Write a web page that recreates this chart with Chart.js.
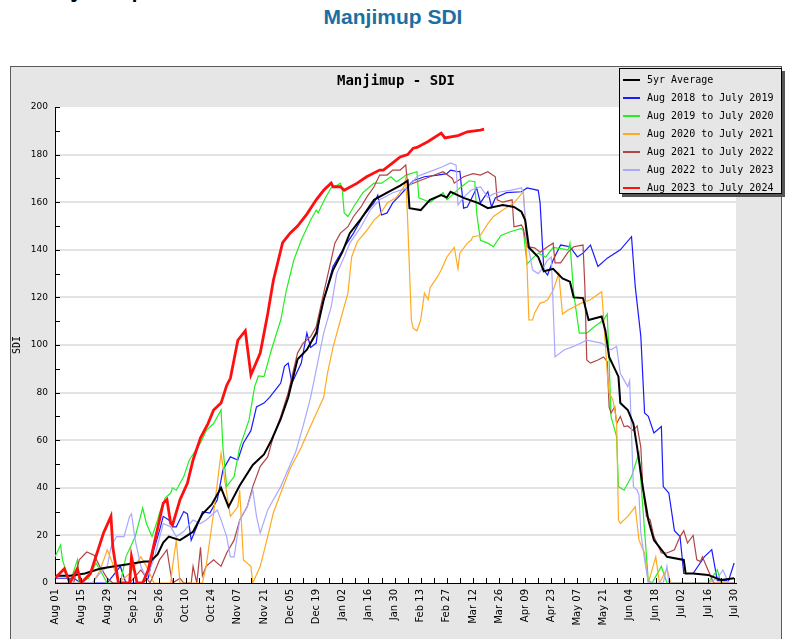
<!DOCTYPE html>
<html lang="en">
<head>
  <meta charset="UTF-8" />
  <title>Manjimup SDI</title>
  <script src="https://cdn.jsdelivr.net/npm/chart.js"></script>
  <style>
    body {
      margin: 0;
      background: #ffffff;
      font-family: "Liberation Sans", Arial, sans-serif;
      width: 786px;
      height: 639px;
      overflow: hidden;
      position: relative;
    }
    .cut-head {
      position: absolute;
      left: 10px;
      top: -34px;
      font-size: 32px;
      line-height: 37px;
      color: #000;
      white-space: nowrap;
    }
    h2 {
      position: absolute;
      top: 5px;
      left: 0;
      width: 786px;
      margin: 0;
      text-align: center;
      font-size: 21px;
      font-weight: bold;
      color: #1d6ea1;
    }
    .frame {
      position: absolute;
      left: 10px;
      top: 66px;
      width: 772px;
      height: 620px;
      box-sizing: border-box;
      background: #e6e6e6;
      border: 1px solid #5a5a5a;
    }
    .frame .ttl {
      position: absolute;
      top: 5px;
      left: 0;
      width: 100%;
      text-align: center;
      font-family: "DejaVu Sans Mono", monospace;
      font-weight: bold;
      font-size: 14px;
      color: #000;
    }
    .frame canvas {
      position: absolute;
      left: 0;
      top: 0;
    }
    .legend {
      position: absolute;
      left: 619px;
      top: 68px;
      width: 163px;
      height: 126px;
      box-sizing: border-box;
      background: #e6e6e6;
      border: 1px solid #000;
      box-shadow: 3px 3px 0 #555;
      font-family: "DejaVu Sans Mono", monospace;
      font-size: 10px;
      padding-top: 2px;
    }
    .legend div {
      height: 18px;
      line-height: 18px;
      white-space: nowrap;
    }
    .legend span {
      display: inline-block;
      width: 17px;
      vertical-align: middle;
      margin: 0 7px 0 3px;
    }
  </style>
</head>
<body>
  <div class="cut-head">Manjimup</div>
  <h2>Manjimup SDI</h2>

  <div class="frame">
    <canvas id="sdiChart" width="770" height="572"></canvas>
    <div class="ttl">Manjimup - SDI</div>
  </div>

  <div class="legend" id="legend"></div>

  <script>
    // day 0 = Aug 01, day 364 = Jul 30
    const tickLabels = ['Aug 01', 'Aug 15', 'Aug 29', 'Sep 12', 'Sep 26', 'Oct 10', 'Oct 24', 'Nov 07',
      'Nov 21', 'Dec 05', 'Dec 19', 'Jan 02', 'Jan 16', 'Jan 30', 'Feb 13', 'Feb 27', 'Mar 12',
      'Mar 26', 'Apr 09', 'Apr 23', 'May 07', 'May 21', 'Jun 04', 'Jun 18', 'Jul 02', 'Jul 16', 'Jul 30'];

    const seriesNames = ['5yr Average', 'Aug 2018 to July 2019', 'Aug 2019 to July 2020',
      'Aug 2020 to July 2021', 'Aug 2021 to July 2022', 'Aug 2022 to July 2023', 'Aug 2023 to July 2024'];

    // [day, SDI]
    const avg5yr = [[0,3],[8,3],[16,4],[24,6],[32,7],[40,8],[48,9],[51,9],[55,12],[58,17],
      [61,19.5],[67,18],[74,21.5],[79,29],[84,33],[89,40],[93,32],[99,41],[106,49.6],[112,54],
      [116,60],[121,69],[125,78],[130,94],[135,98],[140,105],[144,119],[149,131.5],[154,139],[158,147],
      [164,153],[171,161],[178,164],[185,167],[189,169],[190,157.5],[196,156.7],[201,161],[207,163],[210,162],
      [212,164.4],[219,161.8],[227,159.6],[232,157.5],[240,158.8],[246,158],[250,156],[252,152.5],[254,141],[259,137],
      [262,131],[267,132],[272,128],[276,126.6],[278,120],[283,119.7],[286,110.5],[293,112],[295,106],[297,95],
      [302,86.7],[303,75.6],[307,72.7],[310,67],[312,57],[315,40.5],[318,26.5],[321,18],[325,14],[328,11],
      [337,9.7],[338,4],[342,4],[350,3.4],[357,1.3],[364,2]];

    const y2018 = [[0,2],[10,2],[14,0],[28,0],[35,7],[38,0],[47,0],[50,2],[53,14],[56,22],[58,28],[61,26.5],
      [63,23.6],[65,23.6],[69,30],[71,29],[73,18],[76,23.6],[79,30],[83,29.4],[87,35],[90,47.5],[94,53],
      [98,51.7],[101,58.8],[105,64],[108,74],[112,75.6],[115,78],[119,82],[121,84],[123,91],[125,92.4],
      [127,84],[132,92.4],[135,105],[137,99],[140,100.8],[142,113],[146,124.5],[149,133],[155,141],[160,147],
      [165,154],[171,159.7],[173,163],[175,154.6],[178,155.5],[181,159.7],[185,163],[189,166.5],[192,169],
      [198,170.7],[205,171.4],[210,172],[212,173.5],[216,172.8],[217,173],[219,157.5],[221,158],[226,166],
      [228,159.7],[232,164.4],[234,158],[236,161.8],[242,164],[250,164.4],[253,166],[259,165],[260,159.7],
      [262,131.5],[264,129.4],[267,135.7],[271,142],[276,141.3],[280,137],[283,138.6],[287,142],[291,133],
      [296,136.5],[303,140],[309,145.5],[311,124.5],[314,103.5],[316,71.4],[318,70],[321,63],[325,65.7],
      [326,40.5],[329,37.8],[332,22],[335,19.5],[337,4],[342,4],[348,11],[352,14],[355,1],[361,1],[364,8.4]];

    const y2019 = [[0,11],[3,16],[4,9.7],[8,0],[12,9.7],[13,0],[18,2],[22,8.4],[28,0],[35,0],[38,11],
      [43,19.5],[47,31.5],[49,25],[52,19.5],[55,26.5],[56,29.4],[59,35.7],[62,37.8],[63,40],[65,39],
      [69,44.7],[72,51.7],[78,58.8],[81,64],[85,67],[89,72.7],[90,57],[92,40.5],[96,44.7],[99,57],
      [104,68.5],[107,82.5],[109,87],[112,86.7],[116,98],[121,110.5],[124,123],[128,135.7],[132,144],
      [137,152.5],[140,156.7],[141,155.5],[145,162],[148,166],[151,167],[153,168],[154,165],[155,155.5],
      [157,154],[160,158],[165,164],[171,168],[175,168],[180,170.7],[183,168.6],[187,170.7],[188,171.4],
      [194,172.8],[195,161.8],[201,160],[208,164],[210,161],[217,166],[222,169],[225,168.6],[226,155.5],
      [228,144],[232,142.8],[235,141.3],[239,146],[244,147.6],[250,149],[251,148],[253,134],[256,136.5],
      [259,138.6],[263,137],[267,141],[275,140],[276,142.8],[278,121.8],[281,105],[285,105],[289,107.7],
      [294,110.5],[296,113],[297,93.7],[298,70],[301,61.5],[302,40.5],[305,39],[309,44.7],[313,54.6],
      [314,43],[316,22],[318,1],[320,0],[325,7],[328,0],[350,0],[355,5.5],[357,0],[364,0]];

    const y2020 = [[0,0],[20,0],[24,5],[28,14],[31,8],[34,0],[40,4],[46,11],[49,7],[53,0],[62,0],[63,7],
      [65,18],[67,0],[79,0],[81,7],[85,29.4],[89,54.6],[91,43],[94,28],[98,32],[99,39],[101,9.7],[105,7],
      [106,0],[110,7],[114,19.5],[117,29.4],[121,37.8],[126,48],[132,57],[137,66],[144,78],[146,88],
      [149,99],[153,110.5],[157,121.8],[159,137],[162,143.4],[167,148],[171,152.5],[174,154.6],[178,159.7],
      [183,162],[187,166.5],[188,170],[189,152.5],[191,110.5],[192,107],[194,106],[196,110.5],[198,121.8],
      [200,119],[201,124],[205,128.7],[207,131.5],[210,137],[214,141],[216,132],[217,138.6],[221,142.8],
      [223,144],[224,145.5],[228,146],[232,151],[235,154],[240,156.7],[246,159.7],[251,164.4],[252,152.5],
      [253,133],[254,110.5],[256,110.5],[257,113.4],[260,117.6],[262,118],[264,119],[267,123],[270,130],
      [272,113],[275,114.7],[282,117.6],[287,119],[293,122.4],[294,112],[296,88],[297,79.8],[299,77],
      [301,68.5],[302,26.5],[303,25],[307,28],[311,32],[313,18],[316,12.6],[318,0],[322,11],[324,0],
      [328,6],[330,0],[364,0]];

    const y2021 = [[0,0],[10,0],[13,9.7],[17,13],[21,11.7],[24,7],[28,2],[31,0],[40,0],[46,5.5],[51,0],
      [56,9.7],[60,14],[62,4],[63,0],[67,2],[69,0],[73,0],[74,7],[76,0],[78,15],[79,3],[81,7],[85,9.7],
      [89,7],[92,12.6],[96,18],[99,26.5],[103,32],[106,40.5],[110,49],[114,53],[117,61.5],[121,70],
      [125,80],[130,96.6],[133,100.8],[137,103.5],[140,107.7],[144,121.8],[148,135.7],[150,142.8],[153,147],
      [157,149.7],[160,154],[164,158],[167,162],[171,166.5],[174,171.4],[178,171.4],[181,173.5],[185,173.5],
      [188,175.6],[189,167],[194,168.6],[201,170.7],[208,172.8],[213,170],[214,168],[219,170.7],[224,172],
      [228,171.4],[232,172.8],[236,170.7],[237,161],[240,160],[245,161],[246,149.7],[250,150.4],[251,149],
      [253,141.3],[257,140.8],[260,139],[264,141.3],[267,142.8],[268,134.5],[271,134.5],[275,139],[278,141.3],
      [283,142],[284,124.5],[285,93.7],[287,92.4],[291,93.7],[294,95],[296,93],[297,74],[298,71.4],[300,74],
      [301,67],[303,70],[305,65.7],[307,66],[310,64],[312,66],[314,57],[315,40.5],[317,28],[319,26.5],
      [321,19.5],[325,12.6],[328,12.6],[332,14],[335,19.5],[337,22],[339,16.8],[342,20],[344,9.7],[346,9],
      [347,11],[350,5.5],[353,0],[364,0]];

    const y2022 = [[0,0],[20,0],[24,4],[28,7],[30,15],[33,19.5],[37,19.5],[40,28],[41,29],[43,18],[46,7],
      [49,2],[53,10],[58,25],[62,23.6],[65,19.5],[69,21.6],[74,26.5],[78,25],[81,26.5],[87,30.7],[89,26.5],
      [92,19.5],[94,11],[96,11],[99,26.5],[103,32],[106,39],[108,28],[110,21],[114,30.7],[117,35],[121,40.5],
      [129,55],[133,66],[137,78],[140,89.5],[144,105],[148,116],[151,130],[155,137],[158,142.8],[164,149.7],
      [169,156.7],[174,161],[181,164],[189,166],[194,170.7],[196,171.4],[203,173.5],[208,175],[212,176.5],
      [215,175.6],[216,158.8],[219,162],[223,165],[228,166.5],[232,162],[235,163.5],[239,164.4],[244,165],
      [250,166],[251,164],[253,144],[256,131.5],[259,130],[262,133],[264,135.7],[266,137],[267,116],[268,95],
      [273,98],[278,99.4],[285,102],[293,100.8],[296,99],[298,98],[301,99.4],[303,88],[307,82.5],[308,85],
      [310,40.5],[312,39],[313,37],[314,21],[316,10],[318,0],[326,0],[328,7],[329,0],[350,0],[355,2],
      [358,5.5],[361,0],[364,0]];

    const y2023 = [[0,2],[5,6],[8,0],[12,6],[14,0],[19,4],[26,21],[30,28],[31,15],[34,0],[40,0],[41,11],
      [44,0],[47,0],[50,5.5],[54,19.5],[58,33.5],[60,35],[62,25],[63,24.4],[67,35],[71,42],[74,51.7],
      [78,61],[82,67],[85,72.7],[89,75.6],[92,83],[94,86],[98,102],[102,106],[105,87.4],[110,96.6],
      [114,113],[117,127],[122,143],[126,147],[130,150],[135,155],[140,161],[144,165],[148,168],[149,166.5],
      [153,166.5],[155,165],[162,168],[167,170.7],[174,173.5],[176,173.5],[181,176.5],[185,179],[189,180],
      [192,182.7],[194,183],[200,185.5],[207,189],[209,187],[216,188],[221,189.6],[228,190.3],[230,190.7]];

    const seriesData = [avg5yr, y2018, y2019, y2020, y2021, y2022, y2023];
    const seriesColors = ['#000000', '#1a1aff', '#22ee22', '#ffaa22', '#b04444', '#a8a8ff', '#ff1010'];
    const seriesWidths = [2, 1.2, 1.2, 1.2, 1.2, 1.2, 2.8];
    const seriesOrder = [1, 6, 5, 3, 4, 2, 0];

    // white plot area + inward tick marks like the original
    const plotDecor = {
      id: 'plotDecor',
      beforeDraw(chart) {
        const a = chart.chartArea;
        const c = chart.ctx;
        c.save();
        c.fillStyle = '#ffffff';
        c.fillRect(a.left, a.top, a.right - a.left, a.bottom - a.top);
        c.restore();
      },
      afterDraw(chart) {
        const a = chart.chartArea;
        const c = chart.ctx;
        const xs = chart.scales.x, ys = chart.scales.y;
        c.save();
        c.strokeStyle = '#000';
        c.lineWidth = 1;
        c.beginPath();
        for (let d = 0; d <= 364; d += 7) {
          const px = Math.round(xs.getPixelForValue(d)) + 0.5;
          c.moveTo(px, a.bottom);
          c.lineTo(px, a.bottom - 5);
        }
        for (let v = 0; v <= 200; v += 10) {
          const py = Math.round(ys.getPixelForValue(v)) + 0.5;
          c.moveTo(a.left, py);
          c.lineTo(a.left + 5, py);
        }
        c.stroke();
        c.restore();
      }
    };

    const ctx = document.getElementById('sdiChart').getContext('2d');
    const chart = new Chart(ctx, {
      type: 'line',
      data: {
        datasets: seriesData.map((pts, i) => ({
          label: seriesNames[i],
          data: pts.map(p => ({ x: p[0], y: p[1] })),
          borderColor: seriesColors[i],
          borderWidth: seriesWidths[i],
          order: seriesOrder[i],
          pointRadius: 0,
          tension: 0,
          fill: false
        }))
      },
      options: {
        responsive: false,
        animation: false,
        layout: { padding: { left: 0, top: 40, right: 45, bottom: 6 } },
        plugins: {
          legend: { display: false },
          tooltip: { enabled: false }
        },
        scales: {
          x: {
            type: 'linear',
            min: 0,
            max: 365,
            afterFit: s => { s.height = 50; },
            afterBuildTicks: s => { s.ticks = tickLabels.map((_, i) => ({ value: i * 14 })); },
            border: { color: '#000', width: 1 },
            grid: { drawOnChartArea: false, drawTicks: false },
            ticks: {
              autoSkip: false,
              minRotation: 90,
              maxRotation: 90,
              padding: 6,
              color: '#000',
              font: { family: 'DejaVu Sans', size: 10 },
              callback: v => tickLabels[Math.round(v / 14)]
            }
          },
          y: {
            min: 0,
            max: 200,
            afterFit: s => { s.width = 44; },
            border: { color: '#000', width: 1 },
            grid: {
              drawTicks: false,
              lineWidth: 2,
              color: c => (c.tick && c.tick.value > 0 && c.tick.value < 200 ? '#e3e3e3' : 'rgba(0,0,0,0)')
            },
            ticks: {
              stepSize: 20,
              padding: 7,
              color: '#000',
              font: { family: 'DejaVu Sans', size: 9 }
            },
            title: {
              display: true,
              text: 'SDI',
              color: '#000',
              padding: { top: 0, bottom: 0 },
              font: { family: 'DejaVu Sans Mono', size: 10 }
            }
          }
        }
      },
      plugins: [plotDecor]
    });

    // legend box
    const legend = document.getElementById('legend');
    seriesNames.forEach((name, i) => {
      const row = document.createElement('div');
      row.innerHTML = `<span style="border-top:2px solid ${seriesColors[i]}"></span>${name}`;
      legend.appendChild(row);
    });
  </script>
</body>
</html>
